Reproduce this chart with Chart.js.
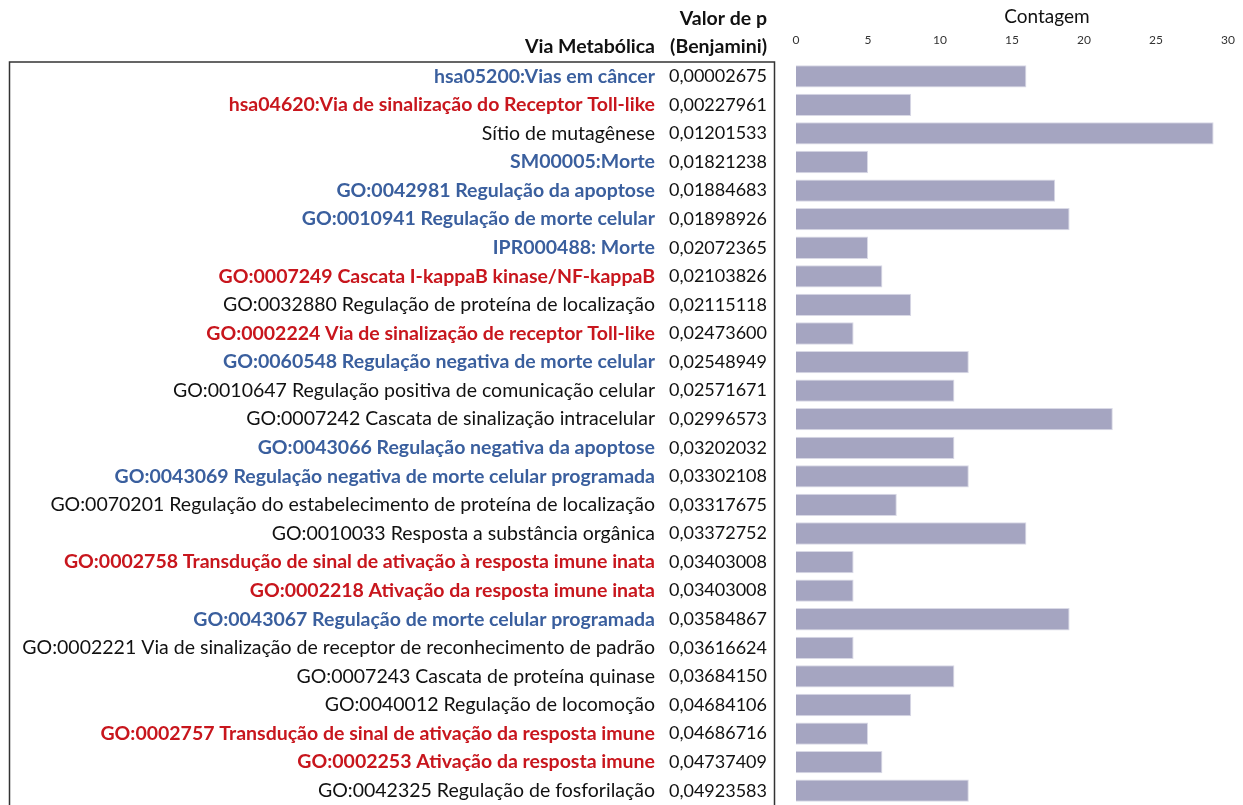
<!DOCTYPE html>
<html>
<head>
<meta charset="utf-8">
<script src="https://cdn.jsdelivr.net/npm/chart.js@4"></script>
<style>
  html, body { margin: 0; padding: 0; background: #fff; overflow: hidden; }
  #wrap { width: 1243px; height: 805px; }
  canvas { display: block; }
</style>
</head>
<body>
<div id="wrap"><canvas id="chartVias"></canvas></div>
<script>
var vias = [
    "hsa05200:Vias em câncer",
    "hsa04620:Via de sinalização do Receptor Toll-like",
    "Sítio de mutagênese",
    "SM00005:Morte",
    "GO:0042981 Regulação da apoptose",
    "GO:0010941 Regulação de morte celular",
    "IPR000488: Morte",
    "GO:0007249 Cascata I-kappaB kinase/NF-kappaB",
    "GO:0032880 Regulação de proteína de localização",
    "GO:0002224 Via de sinalização de receptor Toll-like",
    "GO:0060548 Regulação negativa de morte celular",
    "GO:0010647 Regulação positiva de comunicação celular",
    "GO:0007242 Cascata de sinalização intracelular",
    "GO:0043066 Regulação negativa da apoptose",
    "GO:0043069 Regulação negativa de morte celular programada",
    "GO:0070201 Regulação do estabelecimento de proteína de localização",
    "GO:0010033 Resposta a substância orgânica",
    "GO:0002758 Transdução de sinal de ativação à resposta imune inata",
    "GO:0002218 Ativação da resposta imune inata",
    "GO:0043067 Regulação de morte celular programada",
    "GO:0002221 Via de sinalização de receptor de reconhecimento de padrão",
    "GO:0007243 Cascata de proteína quinase",
    "GO:0040012 Regulação de locomoção",
    "GO:0002757 Transdução de sinal de ativação da resposta imune",
    "GO:0002253 Ativação da resposta imune",
    "GO:0042325 Regulação de fosforilação"
];

var valorP = [
    "0,00002675", "0,00227961", "0,01201533", "0,01821238", "0,01884683",
    "0,01898926", "0,02072365", "0,02103826", "0,02115118", "0,02473600",
    "0,02548949", "0,02571671", "0,02996573", "0,03202032", "0,03302108",
    "0,03317675", "0,03372752", "0,03403008", "0,03403008", "0,03584867",
    "0,03616624", "0,03684150", "0,04684106", "0,04686716", "0,04737409",
    "0,04923583"
];

var contagem = [16, 8, 29, 5, 18, 19, 5, 6, 8, 4, 12, 11, 22, 11, 12, 7, 16, 4, 4, 19, 4, 11, 8, 5, 6, 12];

// grupo: a = azul, v = vermelho, p = preto
var grupo = ["a", "v", "p", "a", "a", "a", "a", "v", "p", "v", "a", "p", "p", "a", "a",
             "p", "p", "v", "v", "a", "p", "p", "p", "v", "v", "p"];

var xTicks = [0, 5, 10, 15, 20, 25, 30];

var cores = { a: "#3a5f9e", v: "#c8161d", p: "#111111" };
var FONTE = "Lato, 'Open Sans', sans-serif";

var tabela = {
    id: "tabela",
    afterDraw: function (chart) {
        var ctx = chart.ctx;
        var y = chart.scales.y;
        var area = chart.chartArea;

        // moldura da tabela
        ctx.save();
        ctx.strokeStyle = "#333";
        ctx.lineWidth = 1.5;
        ctx.beginPath();
        ctx.moveTo(9.5, 810);
        ctx.lineTo(9.5, area.top);
        ctx.lineTo(774.5, area.top);
        ctx.lineTo(774.5, 810);
        ctx.stroke();

        ctx.textBaseline = "middle";
        ctx.textAlign = "right";
        ctx.fillStyle = "#111";
        ctx.font = "bold 19.5px " + FONTE;
        ctx.fillText("Valor de p", 767, 19);
        ctx.fillText("(Benjamini)", 767, 47);
        ctx.fillText("Via Metabólica", 655, 47);

        ctx.textAlign = "center";
        ctx.font = "19px " + FONTE;
        ctx.fillText("Contagem", 1047, 17);

        vias.forEach(function (via, i) {
            var py = y.getPixelForValue(i);
            ctx.textAlign = "right";
            ctx.fillStyle = cores[grupo[i]];
            ctx.font = (grupo[i] === "p" ? "" : "bold ") + "19.5px " + FONTE;
            ctx.fillText(via, 655, py);
            ctx.fillStyle = "#111";
            ctx.font = "18px " + FONTE;
            ctx.fillText(valorP[i], 767, py);
        });
        ctx.restore();
    }
};

new Chart(document.getElementById("chartVias"), {
    type: "bar",
    data: {
        labels: vias,
        datasets: [{
            data: contagem,
            backgroundColor: "#a5a5c1",
            borderColor: "#d9d9e6",
            borderWidth: 1,
            barPercentage: 0.78,
            categoryPercentage: 1
        }]
    },
    options: {
        indexAxis: "y",
        responsive: true,
        maintainAspectRatio: false,
        animation: false,
        layout: { padding: { left: 796, right: 15, top: 0, bottom: 0 } },
        plugins: {
            legend: { display: false },
            tooltip: { enabled: false }
        },
        scales: {
            x: {
                position: "top",
                min: 0,
                max: 30,
                afterBuildTicks: function (scale) {
                    scale.ticks = xTicks.map(function (v) { return { value: v }; });
                },
                afterFit: function (scale) { scale.height = 62; },
                grid: { display: false, drawTicks: true, tickLength: 13 },
                border: { display: false },
                ticks: {
                    padding: 2,
                    color: "#333",
                    font: { family: FONTE, size: 12 }
                }
            },
            y: {
                display: false,
                grid: { display: false }
            }
        }
    },
    plugins: [tabela]
});
</script>
</body>
</html>
